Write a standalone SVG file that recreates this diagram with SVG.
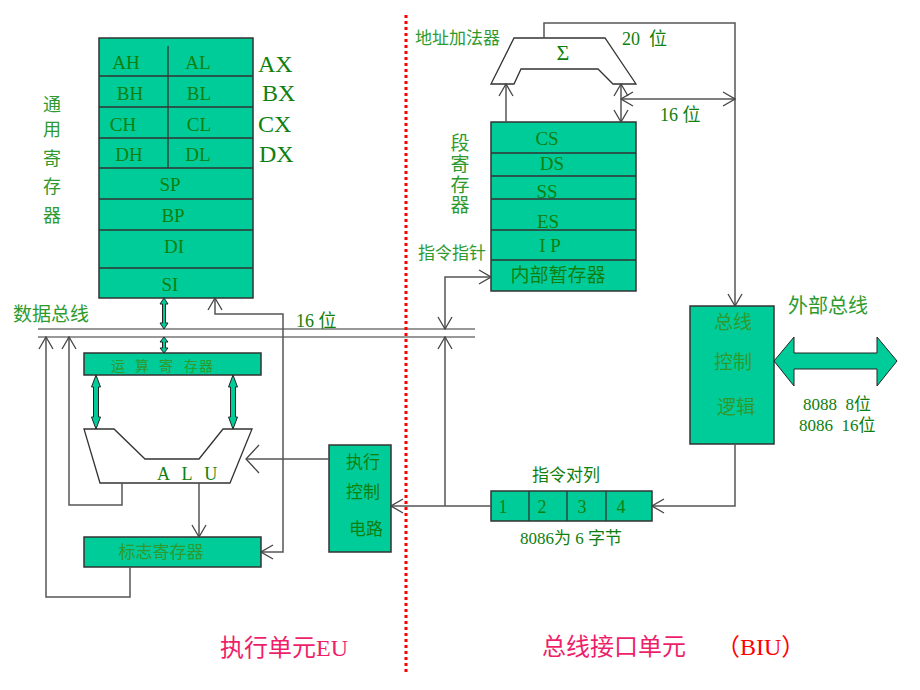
<svg xmlns="http://www.w3.org/2000/svg" width="920" height="690" viewBox="0 0 920 690">
<defs>
<marker id="ah" markerUnits="userSpaceOnUse" markerWidth="16" markerHeight="16" viewBox="0 0 16 16" refX="15" refY="8" orient="auto-start-reverse">
<path d="M3,1 L15,8 L3,15" fill="none" stroke="#444" stroke-width="1.3"/>
</marker>
<marker id="ahb" markerUnits="userSpaceOnUse" markerWidth="18" markerHeight="30" viewBox="0 0 18 30" refX="17" refY="15" orient="auto-start-reverse">
<path d="M4,1 L17,15 L4,29" fill="none" stroke="#444" stroke-width="1.3"/>
</marker>
<style>
.box{fill:#00CC99;stroke:#333;stroke-width:1.5}
.ln{fill:none;stroke:#333;stroke-width:1.3}
.cn{fill:none;stroke:#555;stroke-width:1.5}
.ga{fill:#00CC99;stroke:#222;stroke-width:1}
.t{font-family:"Liberation Serif","Noto Sans CJK SC",serif;fill:#0f800f}
.o{font-family:"Liberation Serif","Noto Sans CJK SC",serif;fill:#2e9a2e}
.m{text-anchor:middle}
</style>
</defs>

<!-- General registers -->
<g id="general-registers">
<rect class="box" x="99" y="38" width="154" height="260"/>
<path class="ln" d="M99,76 H253 M99,107 H253 M99,138 H253 M99,168 H253 M99,199 H253 M99,230 H253 M99,268 H253 M168,46 V168"/>
<g class="t m" font-size="19">
<text x="126" y="69">AH</text><text x="198" y="69">AL</text>
<text x="130" y="100">BH</text><text x="199" y="100">BL</text>
<text x="123" y="131">CH</text><text x="199" y="131">CL</text>
<text x="129" y="161">DH</text><text x="198" y="161">DL</text>
<text x="170" y="191">SP</text><text x="173" y="222">BP</text>
<text x="174" y="253">DI</text><text x="170" y="291">SI</text>
</g>
<g class="t" font-size="24" fill="#008000">
<text x="258" y="72">AX</text><text x="262" y="101">BX</text>
<text x="258" y="132">CX</text><text x="259" y="162">DX</text>
</g>
<g class="o m" font-size="18">
<text x="52" y="111">通</text><text x="52" y="136">用</text>
<text x="52" y="165">寄</text><text x="52" y="193">存</text>
<text x="52" y="222">器</text>
</g>
</g>

<!-- Address adder -->
<g id="address-adder">
<polygon points="514,38 605,38 636,84 613,84 598,69 521,69 514,84 491,84" fill="#fff" stroke="#333" stroke-width="1.3"/>
<text class="t m" x="563" y="60" font-size="22" fill="#222">Σ</text>
<text class="o" x="415" y="44" font-size="17">地址加法器</text>
<text class="t" x="622" y="45" font-size="18" xml:space="preserve">20  位</text>
<text class="t" x="660" y="121" font-size="18">16 位</text>
</g>

<!-- Segment registers -->
<g id="segment-registers">
<rect class="box" x="491" y="122" width="145" height="169"/>
<path class="ln" d="M491,153 H636 M491,176 H636 M491,199 H636 M491,230 H636 M491,260 H636"/>
<g class="t m" font-size="19">
<text x="547" y="145">CS</text><text x="552" y="170">DS</text>
<text x="547" y="198">SS</text><text x="548" y="228">ES</text>
<text x="550" y="252">I P</text><text x="558" y="282">内部暂存器</text>
</g>
<g class="o m" font-size="19">
<text x="460" y="150">段</text><text x="460" y="171">寄</text>
<text x="460" y="192">存</text><text x="460" y="212">器</text>
</g>
<text class="o" x="418" y="259" font-size="17">指令指针</text>
</g>

<!-- Data bus -->
<g id="data-bus">
<path d="M38,329 H475 M38,337 H475" fill="none" stroke="#333" stroke-width="1.2"/>
<text class="o" x="13" y="321" font-size="19">数据总线</text>
<text class="t" x="296" y="327" font-size="18">16 位</text>
</g>

<!-- ALU register -->
<g id="alu-register">
<rect class="box" x="84" y="353" width="177" height="22"/>
<text class="o" y="371" font-size="14"><tspan x="111">运</tspan><tspan x="135">算</tspan><tspan x="159">寄</tspan><tspan x="184">存</tspan><tspan x="199">器</tspan></text>
</g>

<!-- ALU -->
<g id="alu">
<polygon points="84,429 114,429 145,459 199,459 223,429 252,429 230,483 100,483" fill="#fff" stroke="#333" stroke-width="1.3"/>
<text class="t" x="157" y="480" font-size="18" letter-spacing="4">A L U</text>
</g>

<!-- Flag register -->
<g id="flag-register">
<rect class="box" x="84" y="537" width="177" height="30"/>
<text class="o m" x="161" y="558" font-size="17">标志寄存器</text>
</g>

<!-- Execution control -->
<g id="exec-control">
<rect class="box" x="329" y="445" width="62" height="107"/>
<g class="t m" font-size="17">
<text x="363" y="468">执行</text><text x="363" y="498">控制</text><text x="366" y="535">电路</text>
</g>
</g>

<!-- Instruction queue -->
<g id="instruction-queue">
<rect class="box" x="491" y="491" width="161" height="30"/>
<path class="ln" d="M529,491 V521 M567,491 V521 M606,491 V521"/>
<g class="t m" font-size="18">
<text x="503" y="513">1</text><text x="542" y="513">2</text><text x="582" y="513">3</text><text x="621" y="513">4</text>
</g>
<text class="t m" x="566" y="481" font-size="17">指令对列</text>
<text class="t m" x="571" y="544" font-size="17">8086为 6 字节</text>
</g>

<!-- Bus control logic -->
<g id="bus-control">
<rect class="box" x="690" y="306" width="84" height="138"/>
<g class="o m" font-size="19">
<text x="733" y="329">总线</text><text x="733" y="369">控制</text><text x="736" y="414">逻辑</text>
</g>
</g>

<!-- External bus -->
<g id="external-bus">
<polygon class="ga" points="774,361 794,337 794,353 877,353 877,337 897,361 877,386 877,369 794,369 794,386" stroke-width="1.3"/>
<text class="o" x="788" y="313" font-size="20">外部总线</text>
<text class="t" x="803" y="410" font-size="17" xml:space="preserve">8088  8位</text>
<text class="t" x="799" y="431" font-size="17" xml:space="preserve">8086  16位</text>
</g>

<!-- Connectors -->
<g id="connectors">
<path class="cn" d="M544,38 V23 H735 V306" marker-end="url(#ah)"/>
<path class="cn" d="M621,99 H735" marker-start="url(#ah)" marker-end="url(#ah)"/>
<path class="cn" d="M621,99 V84" marker-end="url(#ah)"/>
<path class="cn" d="M621,99 V122" marker-end="url(#ah)"/>
<path class="cn" d="M506,122 V84" marker-end="url(#ah)"/>
<path class="cn" d="M445,329 V277 H491" marker-start="url(#ah)" marker-end="url(#ah)"/>
<path class="cn" d="M735,444 V506 H652" marker-end="url(#ah)"/>
<path class="cn" d="M491,506 H391" marker-end="url(#ah)"/>
<path class="cn" d="M445,506 V337" marker-end="url(#ah)"/>
<path class="cn" d="M329,459 H246" marker-end="url(#ahb)"/>
<path class="cn" d="M199,483 V537" marker-end="url(#ah)"/>
<path class="cn" d="M215,298 V314 H283 V552 H261" marker-start="url(#ah)" marker-end="url(#ah)"/>
<path class="cn" d="M130,567 V597 H46 V337" marker-end="url(#ah)"/>
<path class="cn" d="M122,483 V505 H69 V337" marker-end="url(#ah)"/>
<polygon class="ga" points="164,298 168,304 165.5,304 165.5,323 168,323 164,329 160,323 162.5,323 162.5,304 160,304"/>
<polygon class="ga" points="164,337 168,342 165.5,342 165.5,348 168,348 164,353 160,348 162.5,348 162.5,342 160,342"/>
<polygon class="ga" points="96,375 100.5,387 98.5,387 98.5,417 100.5,417 96,429 91.5,417 93.5,417 93.5,387 91.5,387"/>
<polygon class="ga" points="233,375 237.5,387 235.5,387 235.5,417 237.5,417 233,429 228.5,417 230.5,417 230.5,387 228.5,387"/>
</g>

<!-- Divider and unit labels -->
<g id="divider">
<line x1="406" y1="15" x2="406" y2="675" stroke="#ff0000" stroke-width="3" stroke-dasharray="3 3"/>
<text x="220" y="656" font-size="24" font-family="Liberation Serif, Noto Sans CJK SC, serif" fill="#ee1f6a">执行单元EU</text>
<text x="542" y="655" font-size="24" font-family="Liberation Serif, Noto Sans CJK SC, serif" fill="#ee1f6a">总线接口单元</text>
<text x="716" y="655" font-size="24" font-family="Liberation Serif, Noto Sans CJK SC, serif" fill="#ff0000">（BIU）</text>
</g>
</svg>
